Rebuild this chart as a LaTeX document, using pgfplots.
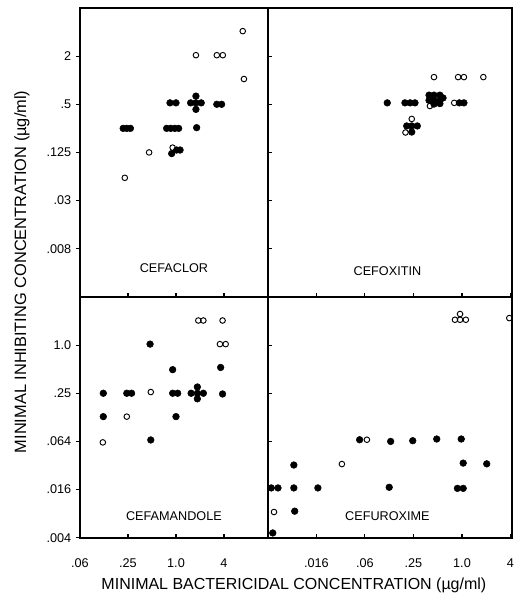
\documentclass[border=0pt]{standalone}
\usepackage{fontspec}
\setmainfont{Liberation Sans}
\usepackage{pgfplots}
\pgfplotsset{compat=1.18}

\pgfplotsset{
  filled/.style={only marks, mark=*, mark size=2.5pt, black},
  hollow/.style={only marks, mark=o, mark size=2.1pt, black,
    mark options={fill=white, line width=0.7pt}},
}
\newcommand{\lab}{\fontsize{9.5}{11}\selectfont}

\begin{document}
\begin{tikzpicture}
\path (0,0) rectangle (390.75pt,-447.75pt);

% CEFACLOR
\begin{axis}[scale only axis, xmode=log, ymode=log, log basis x=2, log basis y=2,
    anchor=south west, at={(60pt,-222.75pt)}, width=141pt, height=216.75pt,
    axis line style={line width=1.1pt}, tick align=inside, major tick length=3pt,
    tick style={black, line width=0.8pt}, xtick pos=left, ytick pos=left,
    major y tick style={xshift=-3pt},
    clip marker paths=true,
    tick label style={font=\fontsize{9.5}{10}\selectfont},
    yticklabel style={xshift=-3pt},
    xmin=0.0625, xmax=14.2, ymin=0.001953125, ymax=8,
    xtick={0.0625,0.25,1,4}, xticklabels={},
    ytick={0.0078125,0.03125,0.125,0.5,2}, yticklabels={.008,.03,.125,.5,2}]
  \addplot[filled] coordinates {
    (0.2176,0.25) (0.2415,0.25) (0.268,0.25)
    (0.763,0.25) (0.858,0.25) (0.966,0.25) (1.079,0.25)
    (0.841,0.521) (1.0,0.521)
    (1.778,0.633) (1.526,0.521) (1.778,0.521) (2.071,0.521) (1.778,0.432)
    (1.815,0.255) (3.249,0.5) (3.732,0.5)
    (0.883,0.121) (1.021,0.134) (1.125,0.134)
  };
  \addplot[hollow] coordinates {
    (6.87,4.11) (1.778,2.056) (3.249,2.056) (3.864,2.056) (7.11,1.035)
    (0.460,0.125) (0.228,0.0602) (0.908,0.1436)
  };
  \node at (rel axis cs:0.5,0.1) {\lab CEFACLOR};
\end{axis}

% CEFOXITIN
\begin{axis}[scale only axis, xmode=log, ymode=log, log basis x=2, log basis y=2,
    anchor=south west, at={(201pt,-222.75pt)}, width=183pt, height=216.75pt,
    axis line style={line width=1.1pt}, tick align=inside, major tick length=3pt,
    tick style={black, line width=0.8pt}, xtick pos=left, ytick pos=left,
    clip marker paths=true,
    xmin=0.00390625, xmax=4.15, ymin=0.001953125, ymax=8,
    xtick={0.015625,0.0625,0.25,1,4}, xticklabels={},
    ytick={0.0078125,0.03125,0.125,0.5,2}, yticklabels={}]
  \addplot[filled] coordinates {
    (0.1183,0.521) (0.196,0.521) (0.227,0.521) (0.261,0.521)
    (0.390,0.651) (0.449,0.651) (0.532,0.651) (0.390,0.562) (0.449,0.562)
    (0.532,0.562) (0.582,0.60) (0.449,0.503) (0.532,0.51)
    (0.927,0.521) (1.057,0.521)
    (0.206,0.268) (0.238,0.268) (0.279,0.268) (0.238,0.225)
  };
  \addplot[hollow] coordinates {
    (0.449,1.094) (0.895,1.094) (1.057,1.094) (1.84,1.094) (0.801,0.521)
    (0.40,0.476) (0.238,0.328) (0.199,0.222)
  };
  \node at (rel axis cs:0.49,0.09) {\lab CEFOXITIN};
\end{axis}

% CEFAMANDOLE
\begin{axis}[scale only axis, xmode=log, ymode=log, log basis x=2, log basis y=2,
    anchor=south west, at={(60pt,-403.5pt)}, width=141pt, height=180.75pt,
    axis line style={line width=1.1pt}, tick align=inside, major tick length=3pt,
    tick style={black, line width=0.8pt}, xtick pos=left, ytick pos=left,
    major y tick style={xshift=-3pt},
    clip marker paths=true,
    tick label style={font=\fontsize{9.5}{10}\selectfont},
    yticklabel style={xshift=-3pt},
    xticklabel style={yshift=-12pt},
    xmin=0.0625, xmax=14.2, ymin=0.00390625, ymax=4,
    xtick={0.0625,0.25,1,4}, xticklabels={.06,.25,1.0,4},
    ytick={0.00390625,0.015625,0.0625,0.25,1},
    yticklabels={.004,.016,.064,.25,1.0}]
  \addplot[filled] coordinates {
    (0.473,1.028) (0.908,0.493) (3.63,0.525)
    (0.1226,0.25) (0.2415,0.25) (0.2774,0.25) (0.908,0.25) (1.05,0.25)
    (1.853,0.25) (1.548,0.25) (2.204,0.25) (1.853,0.2994) (1.853,0.2131)
    (3.837,0.2448) (0.1226,0.1276) (1.0,0.1276) (0.483,0.0652)
  };
  \addplot[hollow] coordinates {
    (1.905,2.028) (2.204,2.028) (3.837,2.028) (3.555,1.028) (4.199,1.028)
    (0.483,0.2588) (0.2415,0.1276) (0.1209,0.0608)
  };
  \node at (rel axis cs:0.5,0.09) {\lab CEFAMANDOLE};
\end{axis}

% CEFUROXIME
\begin{axis}[scale only axis, xmode=log, ymode=log, log basis x=2, log basis y=2,
    anchor=south west, at={(201pt,-403.5pt)}, width=183pt, height=180.75pt,
    axis line style={line width=1.1pt}, tick align=inside, major tick length=3pt,
    tick style={black, line width=0.8pt}, xtick pos=left, ytick pos=left,
    clip marker paths=true,
    tick label style={font=\fontsize{9.5}{10}\selectfont},
    xticklabel style={yshift=-12pt},
    xmin=0.00390625, xmax=4.15, ymin=0.00390625, ymax=4,
    xtick={0.015625,0.0625,0.25,1,4}, xticklabels={.016,.06,.25,1.0,4},
    ytick={0.015625,0.0625,0.25,1}, yticklabels={}]
  \addplot[filled] coordinates {
    (0.0537,0.0656) (0.0082,0.0317)
    (0.0043,0.0164) (0.00521,0.0164) (0.0082,0.0164) (0.01629,0.0164)
    (0.0084,0.0084) (0.00449,0.00449)
    (0.1303,0.0625) (0.2448,0.0638) (0.486,0.067) (0.979,0.067)
    (1.035,0.0335) (2.028,0.0328)
    (0.125,0.0167) (0.877,0.0162) (1.035,0.0162)
  };
  \addplot[hollow] coordinates {
    (0.0661,0.0656) (0.03235,0.0326) (0.00465,0.0082)
    (0.818,2.071) (0.946,2.445) (0.946,2.071) (1.117,2.071) (3.864,2.173)
  };
  \node at (rel axis cs:0.49,0.09) {\lab CEFUROXIME};
\end{axis}

\node[rotate=90, font=\fontsize{12.3}{14}\selectfont] at (16.5pt,-204pt)
  {MINIMAL INHIBITING CONCENTRATION (µg/ml)};
\node[font=\fontsize{12}{14}\selectfont] at (220.5pt,-439pt)
  {MINIMAL BACTERICIDAL CONCENTRATION (µg/ml)};
\end{tikzpicture}
\end{document}
